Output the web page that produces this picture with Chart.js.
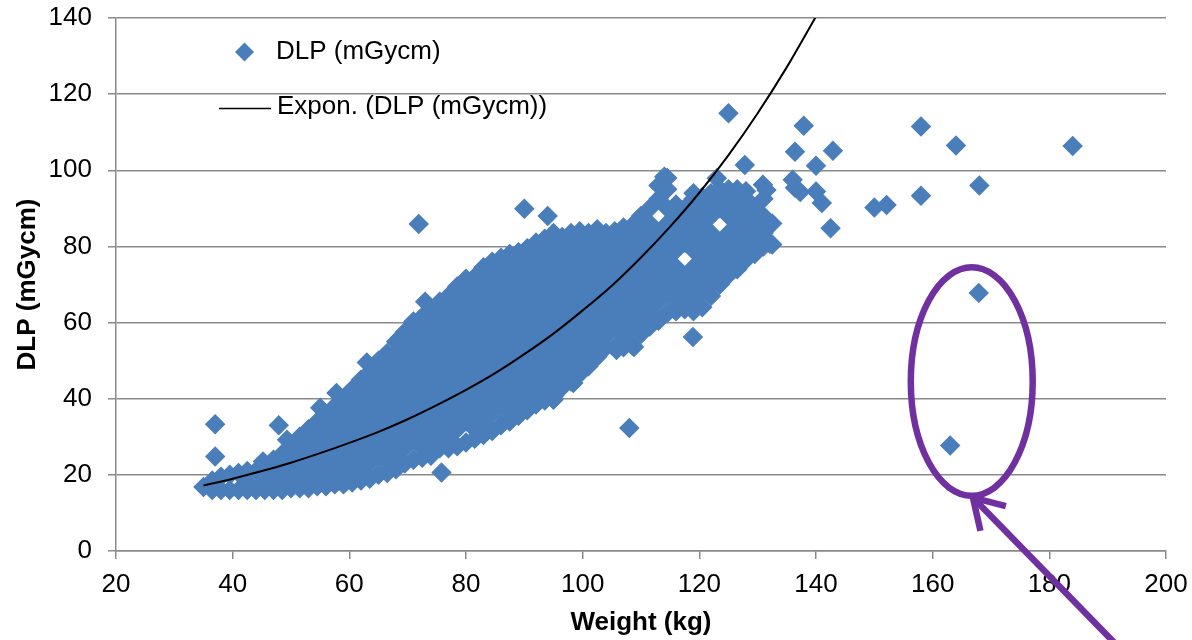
<!DOCTYPE html>
<html>
<head>
<meta charset="utf-8">
<script src="https://cdn.jsdelivr.net/npm/chart.js@4.4.1/dist/chart.umd.min.js"></script>
<style>
html, body { margin: 0; padding: 0; background: #fff; }
canvas { display: block; }
</style>
</head>
<body>
<canvas id="c" width="1192" height="640"></canvas>
<script>
const weightTicks = [20, 40, 60, 80, 100, 120, 140, 160, 180, 200];
const dlpTicks = [0, 20, 40, 60, 80, 100, 120, 140];

// the dense band, read column by column: [weight kg, [DLP values]]
const cloud = [
	[35, [16.8]],
	[36.5, [16, 18.5]],
	[38, [16, 19.5]],
	[39.5, [16, 20]],
	[41, [16, 20.5]],
	[42.5, [16, 18, 21]],
	[44, [16, 21]],
	[45.5, [16, 18, 22]],
	[47, [16, 20.5, 24]],
	[48.5, [16, 18, 23, 25.5]],
	[50, [16.5, 20.5, 25, 27.5]],
	[51.5, [16.5, 18, 23, 27, 30]],
	[53, [16.5, 20.5, 25, 29.5, 32]],
	[54.5, [17, 18.5, 23, 27, 32, 34]],
	[56, [17, 20.5, 25, 29.5, 34, 35.5]],
	[57.5, [17.5, 19, 23, 27, 32, 36, 38]],
	[59, [17.5, 20.5, 25, 29.5, 34, 38.5, 40]],
	[60.5, [18, 23, 27, 32, 36, 41, 42.5]],
	[62, [18.5, 20.5, 25, 29.5, 34, 38.5, 43, 45]],
	[63.5, [19, 23, 27, 32, 36, 41, 45, 47]],
	[65, [20, 25, 29.5, 34, 38.5, 43, 47.5, 50]],
	[66.5, [20.5, 23, 27, 32, 36, 41, 45, 50, 52]],
	[68, [21.5, 25, 29.5, 34, 38.5, 43, 47.5, 52, 55]],
	[69.5, [23, 27, 32, 36, 41, 45, 50, 54, 57.5]],
	[71, [24, 29.5, 34, 38.5, 43, 47.5, 52, 56.5, 59]],
	[72.5, [24.5, 27, 32, 36, 41, 45, 50, 54, 59, 61.5]],
	[74, [25, 29.5, 34, 38.5, 43, 47.5, 52, 56.5, 61, 63.5]],
	[75.5, [27, 32, 36, 41, 45, 50, 54, 59, 63, 65.5]],
	[77, [27, 29.5, 34, 38.5, 43, 47.5, 52, 56.5, 61, 65.5, 67]],
	[78.5, [27.5, 32, 36, 41, 45, 50, 54, 59, 63, 68, 69.5]],
	[80, [28.5, 34, 38.5, 43, 47.5, 52, 56.5, 61, 65.5, 70, 71.5]],
	[81.5, [29.5, 32, 36, 41, 45, 50, 54, 59, 63, 68, 72]],
	[83, [30.5, 34, 38.5, 43, 47.5, 52, 56.5, 61, 65.5, 70, 74.5]],
	[84.5, [31.5, 36, 41, 45, 50, 54, 59, 63, 68, 72, 76]],
	[86, [33, 38.5, 43, 47.5, 52, 56.5, 61, 65.5, 70, 74.5, 77]],
	[87.5, [34, 36, 41, 45, 50, 54, 59, 63, 68, 72, 77, 78]],
	[89, [35.5, 38.5, 43, 47.5, 52, 56.5, 61, 65.5, 70, 74.5, 78.5]],
	[90.5, [37, 41, 45, 50, 54, 59, 63, 68, 72, 77, 79.5]],
	[92, [38.5, 43, 47.5, 52, 56.5, 61, 65.5, 70, 74.5, 79, 81]],
	[93.5, [39.5, 41, 45, 50, 54, 59, 63, 68, 72, 77, 81, 82]],
	[95, [40.5, 43, 47.5, 52, 56.5, 61, 65.5, 70, 74.5, 79, 83.5]],
	[96.5, [43, 45, 50, 54, 59, 63, 68, 72, 77, 81, 82.5]],
	[98, [44.5, 47.5, 52, 56.5, 61, 65.5, 70, 74.5, 79, 83.5]],
	[99.5, [46.5, 50, 54, 59, 63, 68, 72, 77, 81, 84]],
	[101, [48.5, 52, 56.5, 61, 65.5, 70, 74.5, 79, 83.5]],
	[102.5, [51, 54, 59, 63, 68, 72, 77, 81, 84.5]],
	[104, [53.5, 56.5, 61, 65.5, 70, 74.5, 79, 83.5]],
	[105.5, [53.5, 59, 63, 68, 72, 77, 81, 84]],
	[107, [53.5, 56.5, 61, 65.5, 70, 74.5, 79, 83.5, 85]],
	[108.5, [54, 59, 63, 68, 72, 77, 81, 85.5]],
	[110, [57, 61, 65.5, 70, 74.5, 79, 83.5, 88]],
	[111.5, [59, 63, 68, 72, 77, 81, 86, 90]],
	[113, [60.5, 65.5, 70, 74.5, 79, 83.5, 92.5, 96]],
	[114.5, [62.5, 68, 72, 77, 81, 86, 90, 95, 98]],
	[116, [63, 65.5, 70, 74.5, 79, 83.5, 88, 91]],
	[117.5, [63.5, 68, 72, 81, 86, 90]],
	[119, [63, 65.5, 70, 74.5, 79, 83.5, 88, 92.5, 94]],
	[120.5, [64, 68, 72, 77, 81, 86, 90, 93]],
	[122, [67, 70, 74.5, 79, 83.5, 88, 92.5, 94]],
	[123.5, [70, 72, 77, 81, 90, 95]],
	[125, [72.5, 74.5, 79, 83.5, 88, 92.5, 95]],
	[126.5, [74, 77, 81, 86, 90, 95]],
	[128, [76.5, 79, 83.5, 88, 92.5, 94.5]],
	[129.5, [78, 81, 86, 90]],
	[131, [80, 83.5, 88, 92.5]],
	[132.5, [80.5, 86]]
];

// single points outside the band: [weight kg, DLP]
const outliers = [
	[37, 33.3], [37, 24.8], [45.2, 23.5], [47.9, 33], [49.3, 29.2], [55, 37.6], [57.8, 41.5],
	[63, 49.5], [71, 60.3], [73, 65.5], [71.9, 85.9], [75.8, 20.6], [90, 89.9], [94, 88],
	[95, 39.7], [98.4, 44.1], [105.8, 52.8], [108.8, 53.6], [108, 32.3], [118.9, 56.2],
	[114, 98.3], [123, 97.9], [125, 115], [127.8, 101.4], [130.9, 96.2], [131.5, 94.8],
	[132.1, 80.7], [136, 97.5], [136.4, 95.4], [136.4, 104.9], [137.3, 94.3], [137.9, 111.7],
	[140, 101.2], [140, 94.4], [141, 91.4], [142.5, 84.8], [142.9, 105.1], [150, 90.2],
	[152.1, 90.9], [158, 111.5], [158, 93.3], [164, 106.5], [168, 96], [184, 106.4],
	[167.9, 67.8], [163, 27.7]
];

// exponential trendline as drawn
const trendWeight = [35, 40, 45, 50, 55, 60, 65, 70, 75, 80, 85, 90, 95, 100, 105, 110, 115, 120, 125, 130, 135, 140];
const trendDlp = [17.2, 19.0, 21.0, 23.2, 25.7, 28.4, 31.3, 34.6, 38.3, 42.3, 46.7, 51.7, 57.1, 63.2, 69.7, 77.1, 85.2, 94.1, 104.0, 115.0, 127.1, 140.4];

const BLUE = '#4A7EBB';
const PURPLE = '#7030A0';
const GRID = '#8A8A8A';
const FONT = 'Liberation Sans, Arial, sans-serif';

const scatterPts = [];
cloud.forEach(a => a[1].forEach(v => scatterPts.push({x: a[0], y: v})));
outliers.forEach(a => scatterPts.push({x: a[0], y: a[1]}));

const trendPts = trendWeight.map((w, i) => ({x: w, y: trendDlp[i]}));

// legend, purple ring and arrow
const overlay = {
	id: 'overlay',
	afterDraw: chart => {
		const ctx = chart.ctx;
		const x = chart.scales.x;
		const y = chart.scales.y;
		ctx.save();

		// legend
		ctx.fillStyle = BLUE;
		ctx.beginPath();
		ctx.moveTo(235, 52); ctx.lineTo(244.5, 42.5); ctx.lineTo(254, 52); ctx.lineTo(244.5, 61.5);
		ctx.closePath();
		ctx.fill();
		ctx.strokeStyle = '#000';
		ctx.lineWidth = 1.5;
		ctx.beginPath();
		ctx.moveTo(219, 108.5); ctx.lineTo(271, 108.5);
		ctx.stroke();
		ctx.fillStyle = '#000';
		ctx.font = `26px ${FONT}`;
		ctx.textBaseline = 'middle';
		ctx.fillText('DLP (mGycm)', 276, 52);
		ctx.fillText('Expon. (DLP (mGycm))', 277, 107);

		// ring round the two low points
		const cx = x.getPixelForValue(166.7), cy = y.getPixelForValue(44.5);
		const rx = x.getPixelForValue(166.7 + 10.45) - cx;
		const ry = cy - y.getPixelForValue(44.5 + 30);
		ctx.strokeStyle = PURPLE;
		ctx.lineWidth = 6.5;
		ctx.beginPath();
		ctx.ellipse(cx, cy, rx, ry, 0, 0, Math.PI * 2);
		ctx.stroke();

		// arrow pointing at the ring
		const tx = x.getPixelForValue(166.9), ty = y.getPixelForValue(14.0);
		const ex = x.getPixelForValue(193), ey = y.getPixelForValue(-27);
		const ang = Math.atan2(ey - ty, ex - tx);
		const hl = 34;
		ctx.lineJoin = 'miter';
		ctx.beginPath();
		ctx.moveTo(ex, ey); ctx.lineTo(tx + 3 * Math.cos(ang), ty + 3 * Math.sin(ang));
		ctx.stroke();
		ctx.beginPath();
		ctx.moveTo(tx + hl * Math.cos(ang - 0.55), ty + hl * Math.sin(ang - 0.55));
		ctx.lineTo(tx, ty);
		ctx.lineTo(tx + hl * Math.cos(ang + 0.55), ty + hl * Math.sin(ang + 0.55));
		ctx.stroke();

		ctx.restore();
	}
};

new Chart(document.getElementById('c'), {
	type: 'scatter',
	plugins: [overlay],
	data: {
		datasets: [{
			label: 'DLP (mGycm)',
			data: scatterPts,
			order: 1,
			pointStyle: 'rectRot',
			pointRadius: 9.4,
			pointHoverRadius: 9.4,
			backgroundColor: BLUE,
			borderColor: BLUE,
			borderWidth: 1.2
		}, {
			label: 'Expon. (DLP (mGycm))',
			data: trendPts,
			order: 0,
			showLine: true,
			cubicInterpolationMode: 'monotone',
			pointRadius: 0,
			borderColor: '#000',
			borderWidth: 2,
			fill: false
		}]
	},
	options: {
		responsive: false,
		animation: false,
		devicePixelRatio: 1,
		layout: { padding: { left: 0, right: 26, top: 18, bottom: 0 } },
		plugins: {
			legend: { display: false },
			tooltip: { enabled: false }
		},
		scales: {
			x: {
				type: 'linear',
				min: 20,
				max: 200,
				afterFit: s => { s.height = 89; s.paddingLeft = 0; s.paddingRight = 0 },
				afterBuildTicks: s => { s.ticks = weightTicks.map(v => ({value: v})) },
				grid: { drawOnChartArea: false, drawTicks: true, tickLength: 8, color: GRID, lineWidth: 1.5 },
				border: { display: true, color: GRID, width: 1.5 },
				ticks: { color: '#000', padding: 10, font: { family: FONT, size: 26 } },
				title: { display: true, text: 'Weight (kg)', color: '#000', padding: { top: 0, bottom: 2 }, font: { family: FONT, size: 26, weight: 'bold' } }
			},
			y: {
				type: 'linear',
				min: 0,
				max: 140,
				afterFit: s => { s.width = 116; s.paddingTop = 0; s.paddingBottom = 0 },
				afterBuildTicks: s => { s.ticks = dlpTicks.map(v => ({value: v})) },
				grid: { drawTicks: true, tickLength: 8, color: GRID, lineWidth: 1.5 },
				border: { display: true, color: GRID, width: 1.5 },
				ticks: { color: '#000', padding: 16, font: { family: FONT, size: 26 } },
				title: { display: true, text: 'DLP (mGycm)', color: '#000', padding: { top: 12, bottom: 0 }, font: { family: FONT, size: 26, weight: 'bold' } }
			}
		}
	}
});
</script>
</body>
</html>
